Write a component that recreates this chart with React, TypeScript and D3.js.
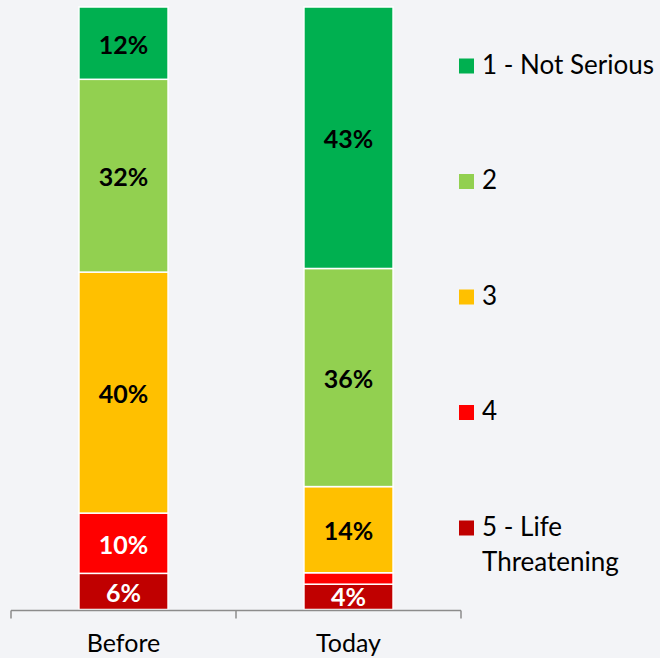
import React from "react";
import * as d3 from "d3";

const categories = ["Before", "Today"];
const seriesNames = ["5 - Life Threatening", "4", "3", "2", "1 - Not Serious"];
const seriesColors = ["#C00000", "#FF0000", "#FFC000", "#92D050", "#00B050"];
const labelColors = ["#ffffff", "#ffffff", "#000000", "#000000", "#000000"];
// values per series (bottom to top), for [Before, Today]
const lifeThreatening = [6, 4.2];
const level4 = [10, 1.9];
const level3 = [40, 14.3];
const level2 = [32, 36.2];
const notSerious = [12, 43.4];
const legendOrder = [4, 3, 2, 1, 0];
const legendLines = [["5 - Life", "Threatening"], ["4"], ["3"], ["2"], ["1 - Not Serious"]];

const W = 660;
const H = 658;
const FONT = "Lato, 'Open Sans', sans-serif";

export default function App() {
  const series = [lifeThreatening, level4, level3, level2, notSerious];
  const rows = categories.map((c, i) => {
    const o: any = { cat: c };
    series.forEach((s, k) => (o["s" + k] = s[i]));
    return o;
  });
  const keys = series.map((_, k) => "s" + k);
  const stacked = d3.stack().keys(keys)(rows);

  const x = d3.scaleBand().domain(categories).range([11, 461]).paddingInner(0.604).paddingOuter(0.302);
  const y = d3.scaleLinear().domain([0, 100]).range([609.5, 7]);
  const axisY = 610.5;

  return (
    <svg width={W} height={H} style={{ position: "absolute", left: 0, top: 0, background: "#F3F4F7" }}>
      <rect x={0} y={0} width={W} height={H} fill="#F3F4F7" />
      {stacked.map((layer, k) =>
        layer.map((d, i) => {
          const y0 = y(d[1]);
          const y1 = y(d[0]);
          const v = d[1] - d[0];
          const bx = x(categories[i])!;
          return (
            <g key={k + "-" + i}>
              <rect x={bx} y={y0} width={x.bandwidth()} height={y1 - y0} fill={seriesColors[k]} stroke="#ffffff" strokeWidth={1.5} />
              {v >= 3 && (
                <text
                  x={bx + x.bandwidth() / 2}
                  y={(y0 + y1) / 2 + (v < 5 ? 3 : 4)}
                  textAnchor="middle"
                  dominantBaseline="middle"
                  fontFamily={FONT}
                  fontWeight="bold"
                  fontSize={25}
                  fill={labelColors[k]}
                >
                  {Math.round(v)}%
                </text>
              )}
            </g>
          );
        })
      )}
      <line x1={11} x2={461} y1={axisY} y2={axisY} stroke="#8C8C8C" strokeWidth={1.5} />
      {[11, 236, 461].map((t) => (
        <line key={t} x1={t} x2={t} y1={axisY} y2={axisY + 8} stroke="#8C8C8C" strokeWidth={1.5} />
      ))}
      {categories.map((c) => (
        <text key={c} x={x(c)! + x.bandwidth() / 2} y={646} textAnchor="middle" dominantBaseline="middle" fontFamily={FONT} fontSize={25} fill="#000">
          {c}
        </text>
      ))}
      {legendOrder.map((k, j) => {
        const cy = 66 + j * 115.5;
        return (
          <g key={k}>
            <rect x={459} y={cy - 7.5} width={15} height={15} fill={seriesColors[k]} />
            {legendLines[k].map((ln, li) => (
              <text key={li} x={482} y={cy + li * 35 + 1} dominantBaseline="middle" fontFamily={FONT} fontSize={26} fill="#000">
                {ln}
              </text>
            ))}
          </g>
        );
      })}
    </svg>
  );
}
